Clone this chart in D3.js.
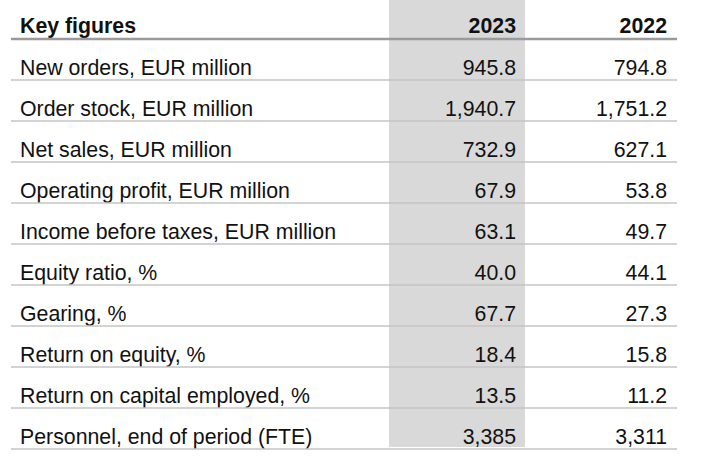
<!DOCTYPE html>
<html>
<head>
<meta charset="utf-8">
<script src="https://cdn.jsdelivr.net/npm/d3@7"></script>
<style>
  html, body { margin: 0; padding: 0; background: #fff; }
  svg { display: block; }
  text { font-family: "Liberation Sans", Arial, sans-serif; fill: #111; }
</style>
</head>
<body>
<svg id="chart" width="720" height="463"></svg>
<script>
const title = "Key figures";
const years = ["2023", "2022"];
const labels = [
  "New orders, EUR million",
  "Order stock, EUR million",
  "Net sales, EUR million",
  "Operating profit, EUR million",
  "Income before taxes, EUR million",
  "Equity ratio, %",
  "Gearing, %",
  "Return on equity, %",
  "Return on capital employed, %",
  "Personnel, end of period (FTE)"
];
const values2023 = ["945.8", "1,940.7", "732.9", "67.9", "63.1", "40.0", "67.7", "18.4", "13.5", "3,385"];
const values2022 = ["794.8", "1,751.2", "627.1", "53.8", "49.7", "44.1", "27.3", "15.8", "11.2", "3,311"];

const FS = 21.3;
const svg = d3.select("#chart");

const rowKeys = ["__header"].concat(labels);
const y = d3.scaleBand().domain(rowKeys).range([-2, 449]).padding(0);
const x = d3.scaleOrdinal().domain(["label", "2023", "2022", "shadeL", "shadeR", "lineL", "lineR"])
  .range([20, 516, 667, 389, 525, 11, 677]);

svg.append("rect")
  .attr("x", x("shadeL")).attr("y", 0)
  .attr("width", x("shadeR") - x("shadeL")).attr("height", y.range()[1] - 2)
  .attr("fill", "#d9d9d9");

const hb = y("__header") + y.bandwidth();
svg.append("text").attr("x", x("label")).attr("y", hb - 6)
  .attr("font-size", FS).attr("font-weight", "bold").text(title);
years.forEach(yr => {
  svg.append("text").attr("x", x(yr)).attr("y", hb - 6)
    .attr("text-anchor", "end").attr("font-size", FS).attr("font-weight", "bold").text(yr);
});
svg.append("line").attr("x1", x("lineL")).attr("x2", x("lineR"))
  .attr("y1", hb).attr("y2", hb).attr("stroke", "#9a9a9a").attr("stroke-width", 2.5);

const rows = labels.map((l, i) => ({label: l, v23: values2023[i], v22: values2022[i]}));
const g = svg.selectAll("g.row").data(rows).enter().append("g").attr("class", "row");
const base = d => y(d.label) + y.bandwidth() - 5.5;
g.append("text").attr("x", x("label")).attr("y", base)
  .attr("font-size", FS).text(d => d.label);
g.append("text").attr("x", x("2023")).attr("y", base)
  .attr("text-anchor", "end").attr("font-size", FS).text(d => d.v23);
g.append("text").attr("x", x("2022")).attr("y", base)
  .attr("text-anchor", "end").attr("font-size", FS).text(d => d.v22);
g.append("line").attr("x1", x("lineL")).attr("x2", x("lineR"))
  .attr("y1", d => y(d.label) + y.bandwidth()).attr("y2", d => y(d.label) + y.bandwidth())
  .attr("stroke", "#c4c4c4").attr("stroke-width", 1.5);
</script>
</body>
</html>
